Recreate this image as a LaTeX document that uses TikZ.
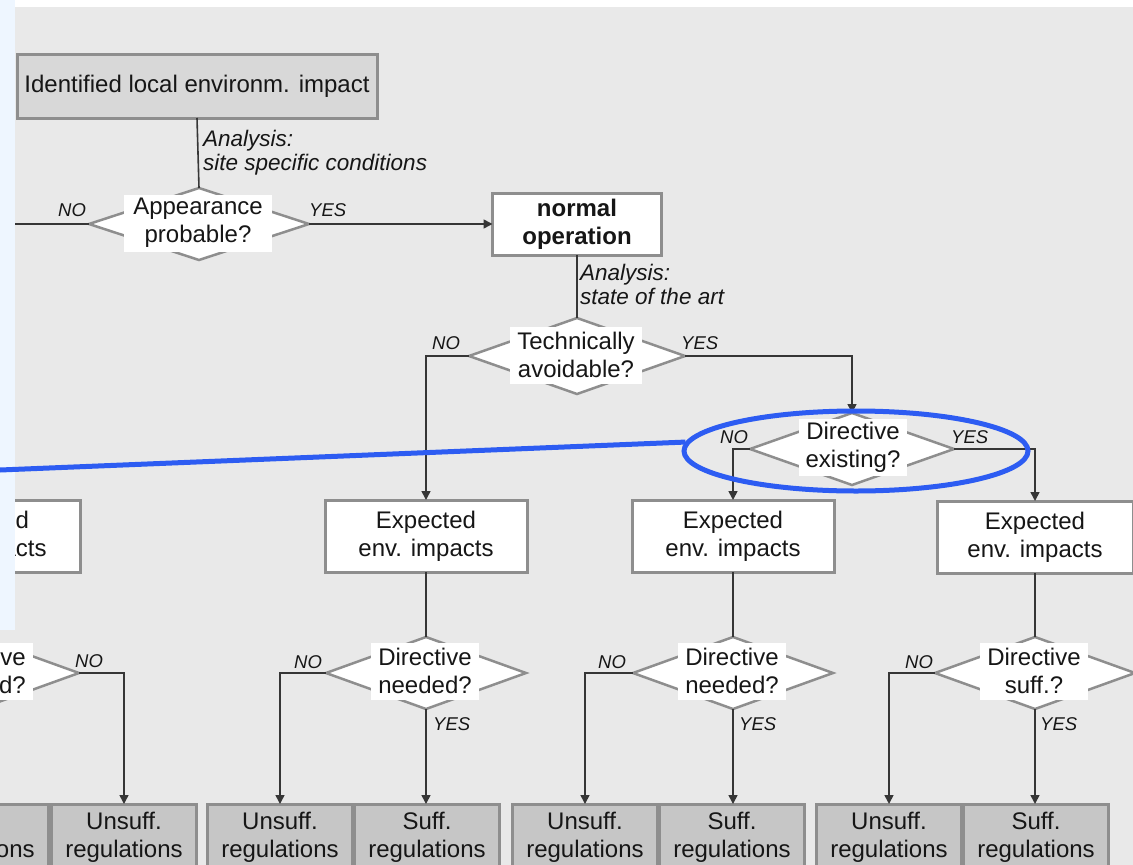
\documentclass[tikz,border=0pt]{standalone}
\usepackage{fontspec}
\setmainfont{Liberation Sans}
\usetikzlibrary{shapes.geometric,arrows.meta}

\definecolor{bggray}{HTML}{E9E9E9}
\definecolor{panelblue}{HTML}{EEF6FF}
\definecolor{topfill}{HTML}{D8D8D8}
\definecolor{regfill}{HTML}{C6C6C6}
\definecolor{edgegray}{HTML}{8E8E8E}
\definecolor{linecol}{HTML}{363636}
\definecolor{ink}{HTML}{161616}
\definecolor{markblue}{HTML}{2D5CF2}

\newcommand\dmain{\fontsize{24}{28}\selectfont}
\newcommand\dnote{\fontsize{22.5}{24}\selectfont\itshape}
\newcommand\dyn{\fontsize{18.5}{20}\selectfont\itshape}

\tikzset{
  box/.style={draw=edgegray, line width=3pt, fill=white, inner sep=0pt,
    outer sep=0pt, align=center, font=\dmain, text=ink},
  topbox/.style={box, fill=topfill, minimum width=360pt, minimum height=64pt},
  opbox/.style={box, minimum width=169pt, minimum height=62pt},
  expbox/.style={box, minimum width=202pt, minimum height=72pt},
  regbox/.style={box, fill=regfill, minimum width=145pt, minimum height=66pt},
  qshape/.style={diamond, draw=edgegray, line width=2.5pt, fill=white,
    inner sep=0pt, outer sep=0pt, minimum width=200pt, minimum height=72pt},
  qtext/.style={fill=white, inner xsep=7pt, inner ysep=0pt, minimum height=57pt,
    align=center, font=\dmain, text=ink},
  conn/.style={draw=linecol, line width=1.6pt},
  arr/.style={conn, -{Triangle[length=9pt,width=9pt]}},
  yn/.style={font=\dyn, inner sep=0pt, anchor=base west, text=ink},
  note/.style={font=\dnote, inner sep=0pt, anchor=north west, align=left, text=ink},
}

\begin{document}
\begin{tikzpicture}[x=1pt,y=-1pt]
\useasboundingbox (0,0) rectangle (1133,865);
\clip (0,0) rectangle (1133,865);

% background
\fill[bggray] (0,0) rectangle (1133,865);
\fill[white] (15,0) rectangle (1133,7);

% ---- upper part
\node[topbox] (impact) at (197,86) {Identified local environm. impact};
\node[note] (n1) at (203,130) {Analysis:\\site specific conditions};

\node[qshape, minimum width=220pt] (appear) at (199,224) {};
\node[qtext, inner xsep=9pt] (appeart) at (198,223) {Appearance\\probable?};

\node[opbox, font=\dmain\bfseries] (normal) at (577,224) {normal\\operation};
\node[note] (n2) at (580,264) {Analysis:\\state of the art};

\node[qshape, minimum width=216pt, minimum height=76pt] (avoid) at (577,356) {};
\node[qtext] (avoidt) at (576,355) {Technically\\avoidable?};

\node[qshape, minimum width=204pt] (exist) at (852,449) {};
\node[qtext] (existt) at (853,447) {Directive\\existing?};

% ---- expected impacts
\node[expbox] (exp1) at (-21,536) {Expected\\env. impacts};
\node[expbox] (exp2) at (426,536) {Expected\\env. impacts};
\node[expbox] (exp3) at (733,536) {Expected\\env. impacts};
\node[expbox, minimum width=196pt] (exp4) at (1035,537) {Expected\\env. impacts};

% ---- lower decisions
\node[qshape] (need1) at (-21,673) {};
\node[qtext] (need1t) at (-21,671) {Directive\\needed?};
\node[qshape] (need2) at (426,673) {};
\node[qtext] (need2t) at (425,671) {Directive\\needed?};
\node[qshape] (need3) at (733,673) {};
\node[qtext] (need3t) at (732,671) {Directive\\needed?};
\node[qshape] (suff4) at (1035,673) {};
\node[qtext] (suff4t) at (1034,671) {Directive\\suff.?};

% ---- regulation outcomes
\node[regbox] (suf1) at (-24,837) {Suff.\\regulations};
\node[regbox] (uns1) at (124,837) {Unsuff.\\regulations};
\node[regbox] (uns2) at (280,837) {Unsuff.\\regulations};
\node[regbox] (suf2) at (427,837) {Suff.\\regulations};
\node[regbox] (uns3) at (585,837) {Unsuff.\\regulations};
\node[regbox] (suf3) at (732,837) {Suff.\\regulations};
\node[regbox] (uns4) at (889,837) {Unsuff.\\regulations};
\node[regbox] (suf4) at (1036,837) {Suff.\\regulations};

% ---- connectors
\coordinate (offleft) at (0,224);
\draw[conn] (impact.south) -- (appear.north);
\draw[conn] (appear.west) -- (offleft);
\draw[arr] (appear.east) -- (appear.east -| normal.west);
\draw[conn] (normal.south) -- (avoid.north);
\draw[arr] (avoid.west) -| (exp2.north);
\draw[arr] (avoid.east) -| (exist.north);
\draw[arr] (exist.west) -| (exp3.north);
\draw[arr] (exist.east) -| (exp4.north);

\draw[conn] (exp1.south) -- (need1.north);
\draw[conn] (exp2.south) -- (need2.north);
\draw[conn] (exp3.south) -- (need3.north);
\draw[conn] (exp4.south) -- (suff4.north);

\draw[arr] (need1.east) -| (uns1.north);
\draw[arr] (need1.south) -- (need1.south |- suf1.north);
\draw[arr] (need2.west) -| (uns2.north);
\draw[arr] (need2.south) -- (need2.south |- suf2.north);
\draw[arr] (need3.west) -| (uns3.north);
\draw[arr] (need3.south) -- (need3.south |- suf3.north);
\draw[arr] (suff4.west) -| (uns4.north);
\draw[arr] (suff4.south) -- (suff4.south |- suf4.north);

% ---- branch labels
\node[yn] (y1) at (58,216) {NO};
\node[yn] (y2) at (309,216) {YES};
\node[yn] (y3) at (432,349) {NO};
\node[yn] (y4) at (681,349) {YES};
\node[yn] (y5) at (720,443) {NO};
\node[yn] (y6) at (951,443) {YES};
\node[yn] (y7) at (75,667) {NO};
\node[yn] (y8) at (294,668) {NO};
\node[yn] (y9) at (433,730) {YES};
\node[yn] (y10) at (598,668) {NO};
\node[yn] (y11) at (739,730) {YES};
\node[yn] (y12) at (905,668) {NO};
\node[yn] (y13) at (1040,730) {YES};

% ---- side panel and highlight
\fill[panelblue] (0,0) rectangle (15,630);
\node[ellipse, draw=markblue, line width=5pt, inner sep=0pt,
  minimum width=344pt, minimum height=80pt] (mark) at (856,451) {};
\coordinate (markfrom) at (0,470);
\draw[markblue, line width=5pt] (markfrom) -- (mark.177);
\end{tikzpicture}
\end{document}
